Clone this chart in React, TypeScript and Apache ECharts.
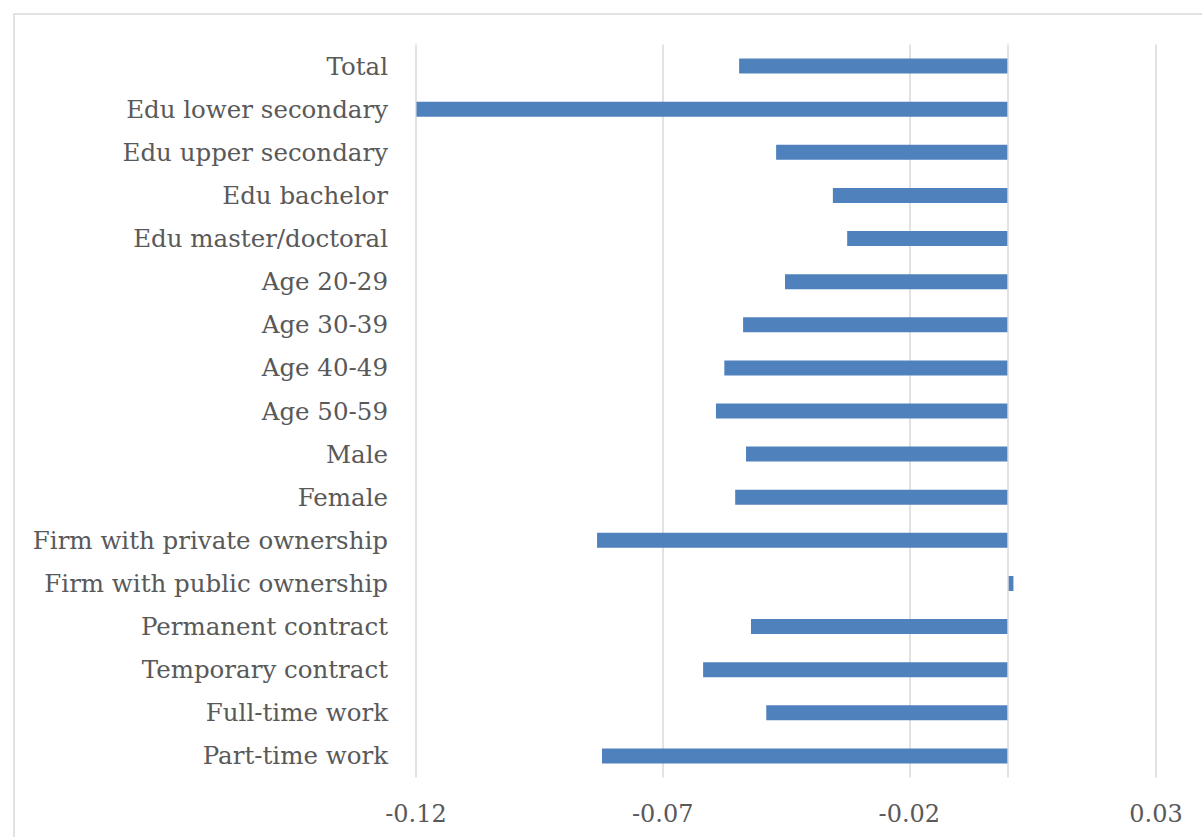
import React, { useEffect, useRef } from "react";
import * as echarts from "echarts";

const categories = [
  "Total",
  "Edu lower secondary",
  "Edu upper secondary",
  "Edu bachelor",
  "Edu master/doctoral",
  "Age 20-29",
  "Age 30-39",
  "Age 40-49",
  "Age 50-59",
  "Male",
  "Female",
  "Firm with private ownership",
  "Firm with public ownership",
  "Permanent contract",
  "Temporary contract",
  "Full-time work",
  "Part-time work",
];

const values = [
  -0.0545, -0.1199, -0.047, -0.0355, -0.0326, -0.0452, -0.0537, -0.0575,
  -0.0592, -0.0531, -0.0553, -0.0833, 0.0011, -0.0521, -0.0618, -0.049,
  -0.0823,
];

const FONT = "'DejaVu Serif', serif";

export default function App() {
  const ref = useRef<HTMLDivElement>(null);
  useEffect(() => {
    const chart = echarts.init(ref.current!, null, { renderer: "svg" });
    chart.setOption({
      animation: false,
      backgroundColor: "#ffffff",
      graphic: [
        {
          type: "rect",
          shape: { x: 14, y: 14, width: 1250, height: 900 },
          style: { fill: "none", stroke: "#d9d9d9", lineWidth: 1.5 },
          silent: true,
        },
      ],
      grid: { left: 416, right: 46, top: 44.5, bottom: 59.5 },
      xAxis: {
        type: "value",
        min: -0.12,
        max: 0.03,
        interval: 0.05,
        axisLine: { show: false },
        axisTick: { show: false },
        axisLabel: {
          color: "#595959",
          fontFamily: FONT,
          fontSize: 24,
          margin: 24,
          formatter: (v: number) => v.toFixed(2),
        },
        splitLine: { show: true, lineStyle: { color: "#d9d9d9", width: 1.5 } },
      },
      yAxis: {
        type: "category",
        inverse: true,
        data: categories,
        axisLine: { show: false },
        axisTick: { show: false },
        axisLabel: {
          color: "#595959",
          fontFamily: FONT,
          fontSize: 24.5,
          margin: 28,
        },
        splitLine: { show: false },
      },
      series: [
        {
          type: "bar",
          data: values,
          barWidth: 15,
          itemStyle: { color: "#4f81bd" },
          markLine: {
            silent: true,
            symbol: "none",
            label: { show: false },
            lineStyle: { color: "#d9d9d9", width: 1.5, type: "solid" },
            data: [{ xAxis: 0 }],
          },
        },
      ],
    });
    return () => chart.dispose();
  }, []);
  return (
    <div
      ref={ref}
      style={{ position: "fixed", left: 0, top: 0, width: 1202, height: 837 }}
    />
  );
}
